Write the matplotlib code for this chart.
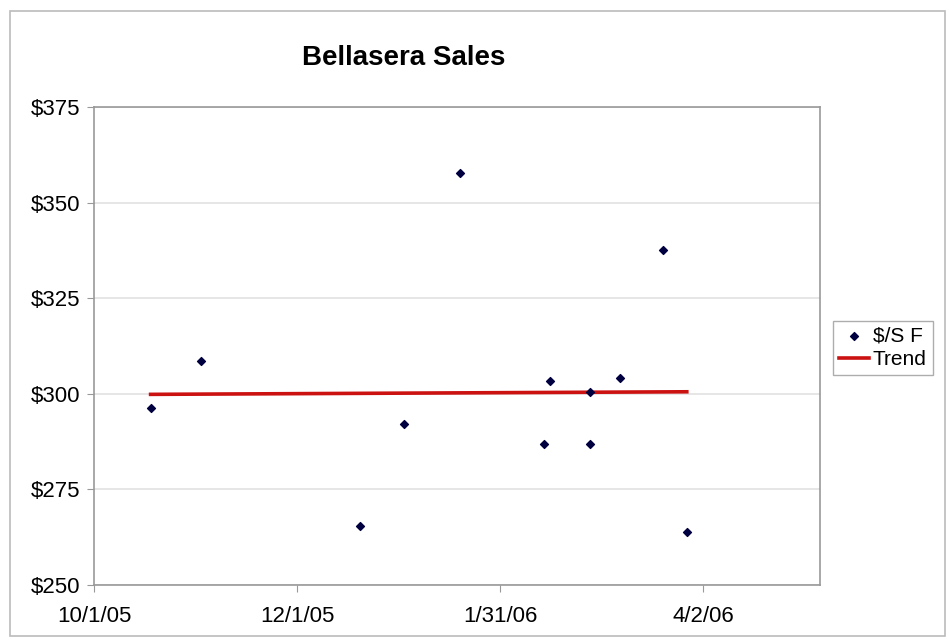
import numpy as np
import pandas as pd
import matplotlib
matplotlib.use("Agg")
import matplotlib.pyplot as plt
import matplotlib.dates as mdates
from matplotlib.patches import Rectangle

# sale dates and $/sq ft values
sale_dates = ["2005-10-18", "2005-11-02", "2005-12-20", "2006-01-02", "2006-01-19",
              "2006-02-13", "2006-02-15", "2006-02-27", "2006-02-27", "2006-03-08",
              "2006-03-21", "2006-03-28"]
price_sf = [296.3, 308.6, 265.4, 292.1, 357.7, 286.9, 303.3, 286.9, 300.5, 304.1,
            337.6, 263.9]
tick_dates = ["2005-10-01", "2005-12-01", "2006-01-31", "2006-04-02"]
tick_labels = ["10/1/05", "12/1/05", "1/31/06", "4/2/06"]

dates = pd.to_datetime(sale_dates)
xnum = mdates.date2num(dates)

# linear trend through the points
slope, icpt = np.polyfit(xnum, price_sf, 1)
trend_x = np.array([xnum.min(), xnum.max()])
trend_y = slope * trend_x + icpt

plt.rcParams['font.family'] = ['Liberation Sans', 'DejaVu Sans']

fig = plt.figure(figsize=(9.49, 6.41), dpi=100)
fig.patches.append(Rectangle((0.011, 0.008), 0.985, 0.975, transform=fig.transFigure,
                             fill=False, edgecolor="#bbbbbb", linewidth=1.2))
ax = fig.add_axes([94 / 949, 1 - 585 / 641, (820 - 94) / 949, (585 - 107) / 641])

ax.scatter(xnum, price_sf, s=16, marker="D", color="#000040", zorder=3, label="$/S F")
ax.plot(trend_x, trend_y, color="#cc1111", linewidth=2.6, zorder=2, label="Trend")

ax.set_xlim(mdates.date2num(pd.Timestamp("2005-10-01")), mdates.date2num(pd.Timestamp("2006-05-07")))
ax.set_ylim(250, 375)
ax.set_yticks(np.arange(250, 376, 25))
ax.set_yticklabels(["$%d" % v for v in np.arange(250, 376, 25)], fontsize=16)
ax.set_xticks(mdates.date2num(pd.to_datetime(tick_dates)))
ax.set_xticklabels(tick_labels, fontsize=16)
ax.tick_params(axis="x", length=5, color="#999999", pad=10)
ax.tick_params(axis="y", length=5, color="#999999", pad=5)

ax.grid(axis="y", color="#e2e2e2", linewidth=1.2)
ax.set_axisbelow(True)
for sp in ax.spines.values():
    sp.set_color("#999999")
    sp.set_linewidth(1.2)

fig.text(404 / 949, 1 - 58 / 641, "Bellasera Sales", ha="center", va="center",
         fontsize=20, fontweight="bold")

leg = fig.legend(loc="center", bbox_to_anchor=(883 / 949, 1 - 348 / 641), fontsize=15,
                 frameon=True, fancybox=False, edgecolor="#999999", handlelength=1.4,
                 handletextpad=0.2, borderpad=0.3, labelspacing=0.2, borderaxespad=0)
leg.get_frame().set_linewidth(1.0)

fig.savefig("out.png", dpi=100)
